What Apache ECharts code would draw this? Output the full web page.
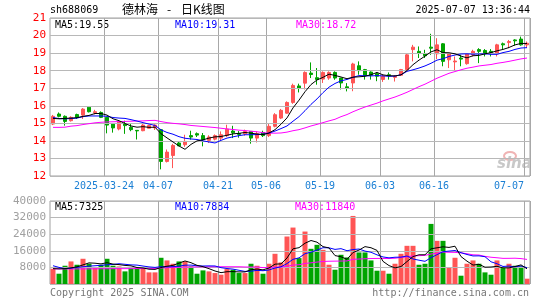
<!DOCTYPE html>
<html>
<head>
<meta charset="utf-8">
<script src="https://cdn.jsdelivr.net/npm/echarts@6/dist/echarts.min.js"></script>
<style>
  html, body { margin: 0; padding: 0; background: #fff; }
  #main { width: 545px; height: 300px; }
</style>
</head>
<body>
<div id="main"></div>
<script>
// 交易日
var dates = [
  '2025-03-11','2025-03-12','2025-03-13','2025-03-14','2025-03-17','2025-03-18','2025-03-19','2025-03-20','2025-03-21','2025-03-24',
  '2025-03-25','2025-03-26','2025-03-27','2025-03-28','2025-03-31','2025-04-01','2025-04-02','2025-04-03','2025-04-07','2025-04-08',
  '2025-04-09','2025-04-10','2025-04-11','2025-04-14','2025-04-15','2025-04-16','2025-04-17','2025-04-18','2025-04-21','2025-04-22',
  '2025-04-23','2025-04-24','2025-04-25','2025-04-28','2025-04-29','2025-04-30','2025-05-06','2025-05-07','2025-05-08','2025-05-09',
  '2025-05-12','2025-05-13','2025-05-14','2025-05-15','2025-05-16','2025-05-19','2025-05-20','2025-05-21','2025-05-22','2025-05-23',
  '2025-05-26','2025-05-27','2025-05-28','2025-05-29','2025-05-30','2025-06-03','2025-06-04','2025-06-05','2025-06-06','2025-06-09',
  '2025-06-10','2025-06-11','2025-06-12','2025-06-13','2025-06-16','2025-06-17','2025-06-18','2025-06-19','2025-06-20','2025-06-23',
  '2025-06-24','2025-06-25','2025-06-26','2025-06-27','2025-06-30','2025-07-01','2025-07-02','2025-07-03','2025-07-04','2025-07-07'
];

var opens = [14.96,15.53,15.40,15.15,15.50,15.47,15.92,15.60,15.62,15.34,
  14.96,14.68,14.96,14.77,14.60,14.58,14.72,14.75,14.64,12.83,
  13.17,13.88,13.78,14.30,14.41,14.30,14.03,14.10,14.16,14.30,
  14.56,14.42,14.40,14.54,14.16,14.48,14.30,14.83,15.30,15.58,
  16.19,17.13,17.29,17.86,17.60,17.52,17.58,17.90,17.58,17.08,
  17.30,18.28,18.06,17.92,17.83,17.50,17.77,17.62,17.74,18.06,
  19.20,19.10,18.96,19.34,18.96,19.53,18.62,18.50,18.72,18.40,
  18.90,19.20,19.15,19.10,18.96,19.53,19.60,19.75,19.80,19.47];
var closes = [15.40,15.40,15.11,15.34,15.34,15.81,15.66,15.66,15.34,14.90,
  14.74,15.09,14.87,14.64,14.57,14.90,14.87,14.90,12.83,13.36,
  13.74,13.72,13.97,14.22,14.33,14.07,14.22,14.30,14.35,14.67,
  14.46,14.37,14.54,14.16,14.41,14.30,14.83,15.49,15.74,16.19,
  17.16,17.00,17.90,17.78,17.50,17.90,17.90,17.58,17.30,17.00,
  18.38,18.00,17.72,17.74,17.68,17.68,17.72,17.68,18.06,18.90,
  19.34,19.00,18.85,19.28,19.47,18.53,18.96,18.55,18.66,18.96,
  19.10,19.10,18.96,19.04,19.47,19.47,19.66,19.70,19.47,19.56];
var lows = [14.90,15.34,14.87,15.10,15.25,15.25,15.62,15.51,15.30,14.43,
  14.47,14.60,14.40,14.55,14.08,14.55,14.72,14.62,12.38,12.77,
  12.45,13.70,13.66,14.07,14.22,13.69,13.88,14.03,14.03,14.22,
  14.16,14.18,14.30,13.84,13.91,14.22,14.22,14.77,15.24,15.55,
  16.11,16.76,16.93,17.58,17.20,17.30,17.48,17.48,16.93,16.82,
  16.83,17.77,17.49,17.49,17.40,17.36,17.49,17.38,17.70,17.96,
  18.53,18.72,18.72,18.90,18.66,18.25,18.15,18.02,18.25,18.34,
  18.81,18.43,18.81,18.81,18.81,19.23,19.28,19.43,19.42,19.30];
var highs = [15.48,15.62,15.45,15.40,15.55,15.87,15.94,15.77,15.68,15.36,
  15.00,15.11,15.15,14.96,14.62,14.96,14.92,14.94,14.68,13.51,
  13.83,13.97,14.35,14.58,14.48,14.45,14.32,14.37,14.54,14.92,
  14.86,14.56,14.64,14.56,14.54,14.58,14.96,15.58,15.82,16.25,
  17.26,17.26,17.96,18.47,18.15,17.96,17.96,17.96,17.58,17.29,
  18.45,18.53,18.10,17.96,17.92,17.77,17.90,17.74,18.10,19.00,
  19.47,19.38,19.19,20.10,19.85,19.57,19.00,18.81,18.90,19.00,
  19.19,19.28,19.23,19.23,19.53,19.60,19.75,19.79,19.94,19.66];

var ma5 = [15.28,15.26,15.28,15.30,15.32,15.40,15.45,15.56,15.56,15.47,
  15.26,15.15,14.99,14.85,14.78,14.81,14.77,14.78,14.41,14.17,
  13.94,13.71,13.52,13.80,14.00,14.06,14.16,14.23,14.25,14.32,
  14.40,14.43,14.48,14.44,14.39,14.36,14.45,14.64,14.95,15.31,
  15.88,16.32,16.80,17.21,17.47,17.62,17.80,17.73,17.64,17.54,
  17.63,17.65,17.68,17.77,17.90,17.76,17.71,17.70,17.76,18.01,
  18.34,18.60,18.83,19.07,19.19,19.03,19.02,18.96,18.83,18.73,
  18.85,18.87,18.96,19.03,19.13,19.21,19.32,19.47,19.55,19.55];
var ma10 = [15.33,15.27,15.26,15.27,15.30,15.38,15.42,15.42,15.42,15.40,
  15.33,15.30,15.28,15.21,15.13,15.04,14.96,14.88,14.63,14.48,
  14.38,14.24,14.15,14.11,14.08,14.00,13.94,13.88,14.03,14.16,
  14.23,14.30,14.35,14.35,14.36,14.38,14.44,14.56,14.70,14.85,
  15.12,15.38,15.72,16.08,16.39,16.75,17.06,17.27,17.42,17.50,
  17.62,17.72,17.71,17.70,17.72,17.70,17.68,17.69,17.77,17.96,
  18.05,18.15,18.27,18.42,18.60,18.68,18.81,18.89,18.95,18.96,
  18.94,18.95,18.96,18.93,18.93,19.03,19.10,19.21,19.29,19.31];
var ma30 = [14.77,14.77,14.78,14.84,14.87,14.93,14.98,15.03,15.06,15.08,
  15.09,15.10,15.11,15.12,15.13,15.14,15.16,15.17,15.10,15.04,
  15.00,14.97,14.93,14.88,14.85,14.82,14.79,14.76,14.72,14.68,
  14.65,14.61,14.59,14.55,14.52,14.47,14.44,14.44,14.45,14.50,
  14.58,14.64,14.74,14.85,14.94,15.04,15.14,15.23,15.38,15.50,
  15.66,15.80,15.93,16.04,16.15,16.28,16.39,16.50,16.63,16.77,
  16.93,17.09,17.23,17.40,17.57,17.71,17.85,17.95,18.05,18.14,
  18.20,18.27,18.31,18.35,18.42,18.47,18.53,18.60,18.67,18.72];

var vols = [7360,4960,8800,10880,9280,12160,9760,8000,9280,12160,
  8800,8480,6080,8160,8160,7680,5600,5600,12640,11360,
  9760,10880,10880,8480,4960,6560,6080,5280,4480,7200,
  6880,5280,5280,9760,8800,4960,9760,14560,10400,22880,
  27200,12480,25280,16960,18880,16480,9280,6880,14080,12800,
  32800,15200,15200,11360,6400,6400,4960,9760,14560,18400,
  18400,9280,9760,28960,20800,20800,7840,12640,4000,9760,
  11360,9760,5600,4480,11360,7680,9760,8800,8480,2560];
var volMa5 = [7400,7300,7400,7800,8256,9216,10176,10016,9696,10272,
  9600,9344,8960,8736,7936,7712,7136,7040,7936,8576,
  8992,10048,11104,10272,8992,8352,7392,6272,5472,5920,
  5984,5824,5824,6880,7200,6816,7712,9568,9696,12512,
  16960,17504,19648,20960,20160,18016,17376,13696,13120,11904,
  15168,16352,18016,17472,16192,10912,8864,7776,8416,10816,
  13216,14080,14080,16960,17440,17920,17632,18208,13216,11008,
  9120,9504,8096,8192,8512,7776,7776,8416,9216,7325];
var volMa10 = [8800,8000,7400,7600,8000,8300,8600,8800,9000,9264,
  9408,9760,9488,9216,9104,8656,8240,8000,8336,8256,
  8352,8592,9072,9104,8784,8672,8720,8688,7872,7456,
  7168,6608,6048,6176,6560,6400,6768,7696,8288,9856,
  11888,12608,14608,15328,16336,17488,17440,16672,17040,16032,
  16592,16864,15856,15296,14048,13040,12608,12896,12944,13504,
  12064,11472,10928,12688,14128,15568,15856,16144,15088,14224,
  13520,13568,13152,10704,9760,8448,8640,8256,8704,7884];
var volMa30 = [7300,7280,7260,7250,7260,7280,7300,7320,7340,7360,
  7380,7400,7400,7420,7440,7460,7480,7500,7700,7850,
  7950,8050,8150,8200,8250,8250,8300,8320,8320,8325,
  8309,8320,8203,8165,8149,7909,7909,8128,8165,8523,
  9136,9269,9909,10203,10560,10853,10976,11019,11067,11115,
  11883,12027,12171,12267,12315,12309,12272,12421,12757,13131,
  13515,13648,13797,14437,14837,15365,15301,15237,15024,14587,
  14059,13968,13312,12896,12645,12352,12368,12432,12245,11840];

// x 轴刻度
var tickIdx = [9, 18, 28, 36, 45, 55, 64, 79];
var tickText = ['2025-03-24', '04-07', '04-21', '05-06', '05-19', '06-03', '06-16', '07-07'];
var priceLines = [13, 14, 15, 16, 17, 18, 19, 20];
var volLines = [8000, 16000, 24000, 32000];

var UP = '#ff5555', DOWN = '#00a400';
var MONO = 'DejaVu Sans Mono';
var V_LINE = '#a8a8a8';
var H_LINE = '#b8b8b8';
var BORDER = '#a0a0a0';

var kData = opens.map(function (o, i) {
    return [o, closes[i], lows[i], highs[i]];
});
var volData = vols.map(function (v, i) {
    return {value: v, itemStyle: {color: closes[i] >= opens[i] ? UP : DOWN}};
});

function isTick(index) {
    return tickIdx.indexOf(index) >= 0;
}

var chart = echarts.init(document.getElementById('main'), null, {renderer: 'canvas'});

function maLine(name, data, color, xi, yi) {
    return {
        name: name, type: 'line', data: data,
        xAxisIndex: xi, yAxisIndex: yi,
        showSymbol: false, symbol: 'none', smooth: false,
        lineStyle: {width: 1, color: color},
        silent: true, z: 5
    };
}

function label(text, x, y, color, align) {
    return {
        type: 'text', x: x, y: y, scaleX: 0.91, silent: true,
        style: {
            text: text, fill: color, font: '11px "' + MONO + '"',
            textAlign: align || 'left', textVerticalAlign: 'top'
        }
    };
}

// 网格线用实线，颜色加深一些
var vSplit = {
    show: true, interval: function (i) { return isTick(i); },
    lineStyle: {color: V_LINE, type: 'solid', width: 1}
};
var hSplit = {show: true, lineStyle: {color: H_LINE, type: 'solid', width: 1}};

// 同位置的 markLine 备用，竖线挂在 0..80 的数值轴上，落在格子边界
function guideSeries(xi, yi, yLines, yBase) {
    var lines = [];
    tickIdx.forEach(function (i) {
        lines.push({xAxis: i, lineStyle: {color: V_LINE}});
    });
    yLines.forEach(function (v) {
        lines.push({yAxis: v, lineStyle: {color: H_LINE}});
    });
    return {
        type: 'scatter', xAxisIndex: xi, yAxisIndex: yi, silent: true,
        symbolSize: 0, z: 2,
        data: tickIdx.map(function (i) { return [i, yBase]; }),
        markLine: {
            silent: true, symbol: 'none', animation: false, precision: 4,
            label: {show: false}, emphasis: {disabled: true},
            lineStyle: {type: 'solid', width: 1},
            data: lines
        }
    };
}

function hiddenValueX(gi) {
    return {type: 'value', gridIndex: gi, min: 0, max: dates.length, show: false,
        splitLine: {show: false}};
}

chart.setOption({
    animation: false,
    backgroundColor: '#fff',
    grid: [
        {left: 50, top: 18, width: 480, height: 158, show: true, borderColor: BORDER, borderWidth: 1,
            backgroundColor: 'rgba(0,0,0,0)'},
        {left: 50, top: 201, width: 480, height: 83, show: true, borderColor: BORDER, borderWidth: 1,
            backgroundColor: 'rgba(0,0,0,0)'}
    ],
    xAxis: [
        {
            type: 'category', gridIndex: 0, data: dates, boundaryGap: true,
            axisLine: {show: false}, axisTick: {show: false},
            axisLabel: {
                show: true, interval: function (i) { return isTick(i); },
                margin: 5,
                formatter: function (val, i) {
                    var k = tickIdx.indexOf(i);
                    if (k < 0) return '';
                    return (k === tickIdx.length - 1 ? '{b|' : '{a|') + tickText[k] + '}';
                },
                rich: {
                    a: {color: '#1a7fd4', fontFamily: MONO, fontSize: 10, padding: [0, 6, 0, 0]},
                    b: {color: '#1a7fd4', fontFamily: MONO, fontSize: 10, padding: [0, 36, 0, 0]}
                }
            },
            splitLine: vSplit
        },
        {
            type: 'category', gridIndex: 1, data: dates, boundaryGap: true,
            axisLine: {show: false}, axisTick: {show: false},
            axisLabel: {show: false}, splitLine: vSplit
        },
        hiddenValueX(0),
        hiddenValueX(1)
    ],
    yAxis: [
        {
            type: 'value', gridIndex: 0, min: 12, max: 21, interval: 1,
            axisLine: {show: false}, axisTick: {show: false},
            axisLabel: {color: '#ff0000', fontFamily: MONO, fontSize: 11, margin: 4},
            splitLine: hSplit
        },
        {
            type: 'value', gridIndex: 1, min: 0, max: 40000, interval: 8000,
            axisLine: {show: false}, axisTick: {show: false},
            axisLabel: {color: '#a0a0a0', fontFamily: MONO, fontSize: 11, margin: 4, showMinLabel: false,
                formatter: function (v) { return String(v); }},
            splitLine: hSplit
        }
    ],
    series: [
        guideSeries(2, 0, priceLines, 12),
        guideSeries(3, 1, volLines, 0),
        {
            name: 'K', type: 'candlestick', data: kData,
            xAxisIndex: 0, yAxisIndex: 0, barWidth: 4,
            itemStyle: {color: UP, color0: DOWN, borderColor: UP, borderColor0: DOWN, borderWidth: 1},
            silent: true, z: 3
        },
        maLine('MA30', ma30, '#ff00ff', 0, 0),
        maLine('MA10', ma10, '#0000ff', 0, 0),
        maLine('MA5', ma5, '#000000', 0, 0),
        {
            name: 'VOL', type: 'bar', data: volData,
            xAxisIndex: 1, yAxisIndex: 1, barWidth: 5, silent: true, z: 3
        },
        maLine('VMA30', volMa30, '#ff00ff', 1, 1),
        maLine('VMA10', volMa10, '#0000ff', 1, 1),
        maLine('VMA5', volMa5, '#000000', 1, 1)
    ],
    graphic: [
        label('sh688069', 50, 5, '#000'),
        {type: 'text', x: 122, y: 3, silent: true,
            style: {text: '德林海', fill: '#000', font: '12px "Noto Sans CJK SC"', textVerticalAlign: 'top'}},
        {type: 'text', x: 167, y: 3, silent: true,
            style: {text: '-', fill: '#000', font: '12px "Noto Sans CJK SC"', textVerticalAlign: 'top'}},
        {type: 'text', x: 181, y: 3, silent: true,
            style: {text: '日K线图', fill: '#000', font: '12px "Noto Sans CJK SC"', textVerticalAlign: 'top'}},
        {type: 'text', x: 530, y: 5, silent: true, scaleX: 0.91,
            style: {text: '2025-07-07 13:36:44', fill: '#000', font: '11px "' + MONO + '"',
                textAlign: 'right', textVerticalAlign: 'top'}},
        label('MA5:19.55', 55, 20, '#000'),
        label('MA10:19.31', 175, 20, '#0000ff'),
        label('MA30:18.72', 296, 20, '#ff00ff'),
        label('MA5:7325', 55, 202, '#000'),
        label('MA10:7884', 175, 202, '#0000ff'),
        label('MA30:11840', 295, 202, '#ff00ff'),
        label('Copyright 2025 SINA.COM', 50, 288, '#777'),
        {type: 'text', x: 529, y: 288, silent: true, scaleX: 0.91,
            style: {text: 'http://finance.sina.com.cn', fill: '#777', font: '11px "' + MONO + '"',
                textAlign: 'right', textVerticalAlign: 'top'}},
        // sina 水印
        {type: 'ellipse', silent: true, shape: {cx: 510, cy: 156, rx: 6, ry: 4},
            style: {fill: 'none', stroke: '#f0b4b4', lineWidth: 2}},
        {type: 'text', x: 497, y: 157, silent: true,
            style: {text: 'sina', fill: '#c8c8c8', font: 'italic bold 15px "DejaVu Sans"', textVerticalAlign: 'top'}}
    ]
});
</script>
</body>
</html>
